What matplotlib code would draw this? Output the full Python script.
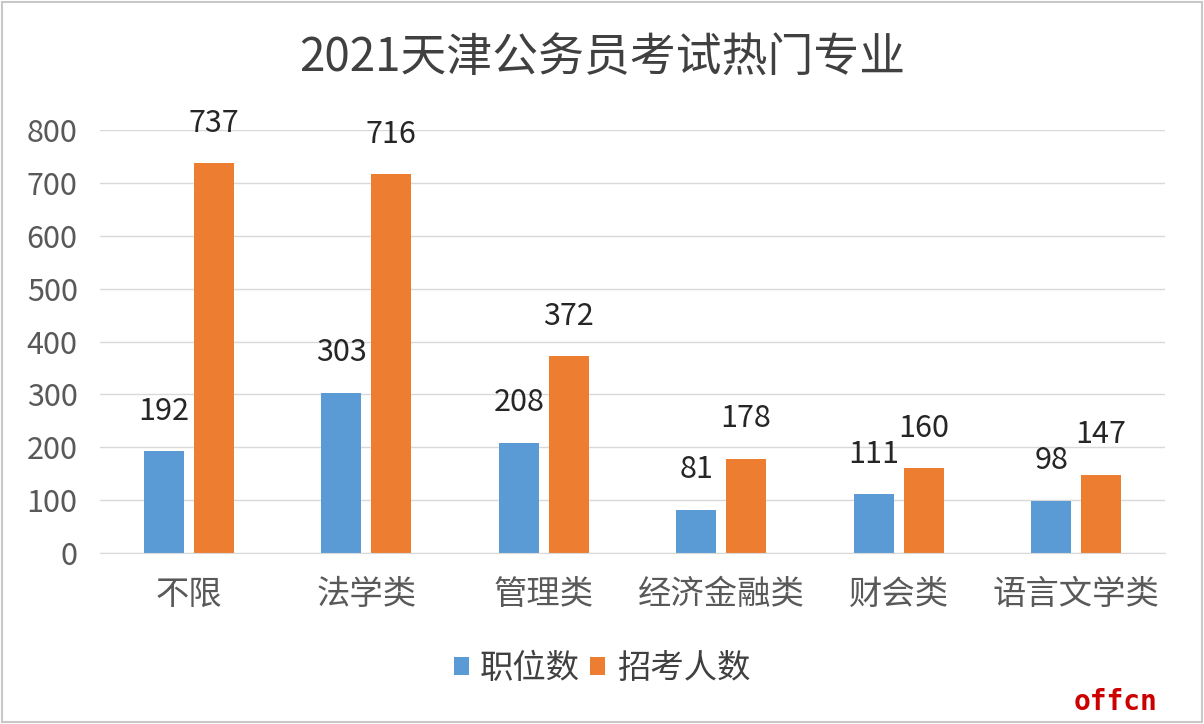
import numpy as np
import matplotlib.pyplot as plt
from matplotlib.patches import Rectangle

plt.rcParams['font.family'] = ['Noto Sans CJK SC', 'DejaVu Sans']

# 数据
categories = ['不限', '法学类', '管理类', '经济金融类', '财会类', '语言文学类']
positions = [192, 303, 208, 81, 111, 98]
applicants = [737, 716, 372, 178, 160, 147]
series_names = ['职位数', '招考人数']
title = '2021天津公务员考试热门专业'

blue = '#5B9BD5'
orange = '#ED7D31'

fig = plt.figure(figsize=(12.04, 7.24), dpi=100)
ax = fig.add_axes([0.083, 0.2362, 0.8846, 0.5842])

x = np.arange(len(categories))
w = 0.225
off = 0.14
b1 = ax.bar(x - off, positions, w, color=blue, label=series_names[0], zorder=3)
b2 = ax.bar(x + off, applicants, w, color=orange, label=series_names[1], zorder=3)

# 数据标签
for bars, vals in ((b1, positions), (b2, applicants)):
    for r, v in zip(bars, vals):
        ax.annotate(str(v), (r.get_x() + r.get_width() / 2, v),
                    xytext=(0, 29), textcoords='offset points',
                    ha='center', va='center', fontsize=22, color='#262626')

ax.set_xlim(-0.5, len(categories) - 0.5)
ax.set_ylim(0, 800)
ax.set_yticks(range(0, 801, 100))
ax.set_xticks(x)
ax.set_xticklabels(categories)
ax.tick_params(axis='y', length=0, pad=16, labelsize=22, labelcolor='#595959')
ax.tick_params(axis='x', length=0, pad=17, labelsize=24, labelcolor='#595959')
ax.grid(axis='y', color='#d9d9d9', linewidth=1, zorder=0)
for s in ('top', 'right', 'left'):
    ax.spines[s].set_visible(False)
ax.spines['bottom'].set_color('#d9d9d9')
ax.spines['bottom'].set_zorder(4)

fig.text(0.5, 0.921, title, ha='center', va='center', fontsize=33, color='#404040')

leg = fig.legend(loc='center', bbox_to_anchor=(0.5, 0.077), ncol=2, frameon=False,
                 fontsize=24, handlelength=0.45, handleheight=0.45,
                 handletextpad=0.35, columnspacing=0.3)
for t in leg.get_texts():
    t.set_color('#404040')

# 水印
fig.text(0.9265, 0.031, 'offcn', ha='center', va='center', fontsize=20,
         family='DejaVu Sans Mono', fontweight='bold', color='#cc0000')

# 外框
fig.patches.append(Rectangle((0.002, 0.003), 0.996, 0.994, transform=fig.transFigure,
                             fill=False, edgecolor='#c8c8c8', linewidth=1.5))

fig.savefig('out.png', dpi=100)
